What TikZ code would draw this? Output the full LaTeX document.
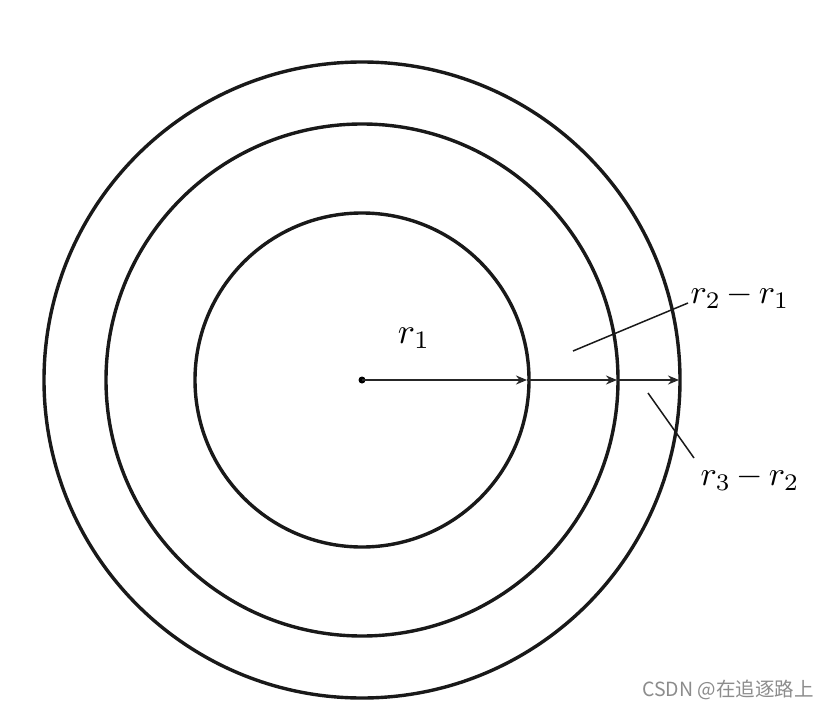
\documentclass[tikz,border=0pt]{standalone}
\usepackage{graphicx}
\usepackage{fontspec}
\newfontfamily\cjk{Noto Sans CJK SC}
\usetikzlibrary{arrows.meta}
\begin{document}
\begin{tikzpicture}[x=1pt,y=-1pt,
  ring/.style={draw=black!90,line width=3.4pt},
  radarrow/.style={draw=black!85,line width=2pt,-{Stealth[length=11pt,width=9pt]}},
  leader/.style={draw=black!90,line width=1.5pt},
  lbl/.style={inner sep=0pt}]
\useasboundingbox (0,0) rectangle (834,711);
\fill[white] (0,0) rectangle (834,711);
\coordinate (O) at (362,380);
\draw[ring] (O) circle[radius=167];
\draw[ring] (O) circle[radius=256];
\draw[ring] (O) circle[radius=318];
\coordinate (A) at (527,380);
\coordinate (B) at (617,380);
\coordinate (C) at (679,380);
\fill[black] (O) circle[radius=3.5];
\draw[radarrow] (O) -- (A);
\draw[radarrow] (A) -- (B);
\draw[radarrow] (B) -- (C);
\node[lbl] (r1) at (414,338) {\scalebox{3.6}{$r_1$}};
\node[lbl] (r21) at (740,296) {\scalebox{3.4}{$r_2\,{-}\,r_1$}};
\node[lbl] (r32) at (750,478) {\scalebox{3.4}{$r_3\,{-}\,r_2$}};
\coordinate (L1a) at (573,351);
\coordinate (L1b) at (688,303);
\coordinate (L2a) at (648,393);
\coordinate (L2b) at (694,458);
\draw[leader] (L1a) -- (L1b);
\draw[leader] (L2a) -- (L2b);
\node[font=\cjk\fontsize{19.5}{22}\selectfont,text=black!45,inner sep=0pt] (wm) at (728,690) {CSDN @在追逐路上};
\end{tikzpicture}
\end{document}
